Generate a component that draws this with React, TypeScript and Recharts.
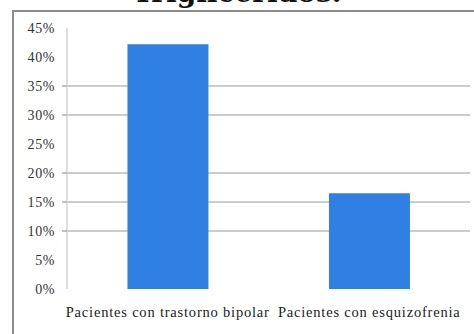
import React from 'react';
import { BarChart, Bar, XAxis, YAxis, CartesianGrid } from 'recharts';

const categories = ['Pacientes con trastorno bipolar', 'Pacientes con esquizofrenia'];
const percentages = [42.2, 16.5];
const yTicks = [0, 5, 10, 15, 20, 25, 30, 35, 40, 45];
const gridValues = [10, 15, 20, 30, 35];
const title = 'Triglicéridos.';

const data = categories.map((name, i) => ({ name, value: percentages[i] }));

const serif = '"Liberation Serif", "DejaVu Serif", serif';

const YTick = (props: any) => {
  const { x, y, payload } = props;
  const showLine = gridValues.includes(payload.value);
  return (
    <g>
      {showLine && <line x1={x + 7} x2={x + 12} y1={y} y2={y} stroke="#9a9a9a" strokeWidth={1.2} />}
      <text x={x} y={y} dy="0.35em" textAnchor="end" fill="#333" fontSize={14} letterSpacing={0.6} fontFamily={serif}>
        {payload.value}%
      </text>
    </g>
  );
};

const App = () => {
  return (
    <div style={{ position: 'absolute', left: 0, top: 0, width: 474, height: 334, background: '#fff', overflow: 'hidden' }}>
      {/* frame around the chart */}
      <div style={{ position: 'absolute', left: 12, top: 10, width: 470, height: 330, borderTop: '2px solid #8c8c8c', borderLeft: '2px solid #8c8c8c' }} />
      <div style={{ position: 'absolute', left: 0, width: 474, top: -22, textAlign: 'center', fontFamily: '"DejaVu Serif", serif', fontWeight: 'bold', fontSize: 28, color: '#111', lineHeight: '30px' }}>
        {title}
      </div>
      <div style={{ position: 'absolute', left: 0, top: 0 }}>
        <BarChart width={474} height={334} data={data} margin={{ top: 28, right: 4, left: 0, bottom: 0 }} barCategoryGap="30%">
          <CartesianGrid vertical={false} horizontalValues={gridValues} stroke="#9a9a9a" strokeWidth={1.2} />
          <XAxis
            dataKey="name"
            height={45}
            tickSize={0}
            tickMargin={18}
            axisLine={false}
            tickLine={false}
            tick={{ fill: '#222', fontSize: 14.5, fontFamily: serif, letterSpacing: 0.8 }}
            interval={0}
          />
          <YAxis
            width={67}
            domain={[0, 45]}
            ticks={yTicks}
            interval={0}
            tickSize={5}
            tickMargin={7}
            tickLine={false}
            axisLine={{ stroke: '#d4d4d4', strokeWidth: 1.5 }}
            tick={<YTick />}
          />
          <Bar dataKey="value" fill="#2f80e2" isAnimationActive={false} />
        </BarChart>
      </div>
    </div>
  );
};

export default App;
